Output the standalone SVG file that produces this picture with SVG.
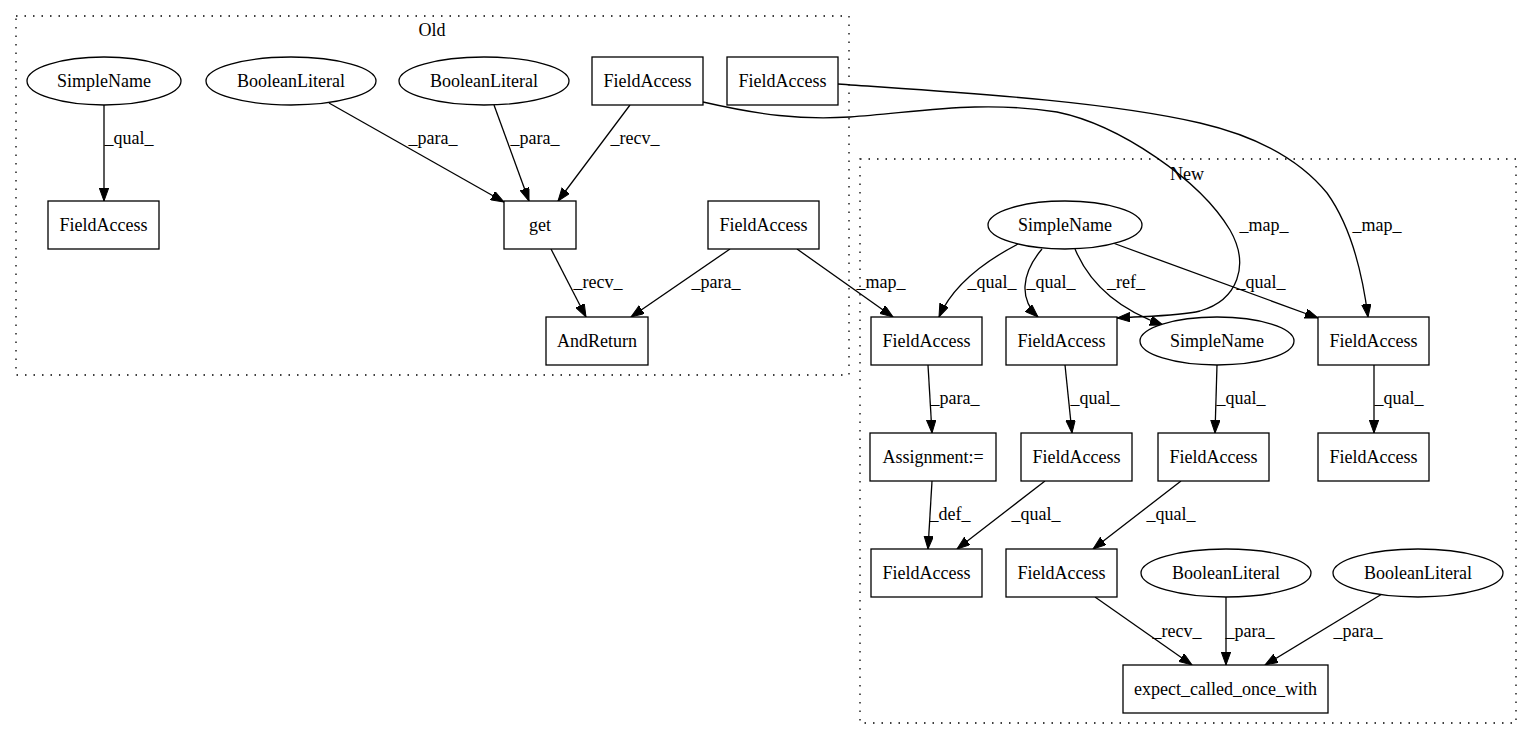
<svg xmlns="http://www.w3.org/2000/svg" width="1531" height="740" viewBox="0 0 1531 740">
<style>
text{font-family:"Liberation Serif","Times New Roman",serif;font-size:18px;fill:#000;text-anchor:middle}
.node rect,.node ellipse{fill:#fff;stroke:#000;stroke-width:1.3}
.cluster{fill:none;stroke:#000;stroke-width:1.3;stroke-dasharray:1.5,7}
.edges path{fill:none;stroke:#000;stroke-width:1.3;marker-end:url(#arr)}
</style>
<defs>
<marker id="arr" markerUnits="userSpaceOnUse" markerWidth="14" markerHeight="10" refX="13" refY="4.7" orient="auto">
<path d="M0,0 L13,4.7 L0,9.4 z" fill="#000" stroke="#000" stroke-width="1"/>
</marker>
</defs>
<rect width="1531" height="740" fill="#fff"/>
<g id="cluster_old"><rect class="cluster" x="16" y="16" width="833" height="359"/><text x="432" y="36">Old</text></g>
<g id="cluster_new"><rect class="cluster" x="860" y="159" width="656" height="564"/><text x="1187" y="180">New</text></g>

<g id="edges" class="edges">
<path d="M104,105 L104,201"/>
<path d="M329,103 L504,202"/>
<path d="M494,105 L529,201"/>
<path d="M630,105 L558,201"/>
<path d="M551,249 L586,317"/>
<path d="M730,249 L631,317"/>
<path d="M797,249 L893,317"/>
<path d="M703,102 C760,115 800,120 850,117 C920,112 980,100 1057,112 C1120,125 1200,180 1230,230 C1250,265 1238,300 1200,311 C1180,316 1150,316 1117,318"/>
<path d="M838,84 C950,92 1100,100 1200,123 C1260,137 1300,160 1327,193 C1350,225 1362,270 1368,317"/>
<path d="M1018,244 C995,256 955,280 939,317"/>
<path d="M1042,249 C1020,275 1020,300 1038,317"/>
<path d="M1075,249 C1090,285 1120,310 1163,325"/>
<path d="M1113,243 L1318,318"/>
<path d="M928,365 L932,433"/>
<path d="M1065,365 L1072,433"/>
<path d="M1217,365 L1215,433"/>
<path d="M1374,365 L1374,433"/>
<path d="M932,481 L928,549"/>
<path d="M1045,481 L957,549"/>
<path d="M1181,481 L1093,549"/>
<path d="M1095,597 L1192,665"/>
<path d="M1226,597 L1226,665"/>
<path d="M1382,594 L1265,665"/>
</g>
<g id="edge_labels">
<text x="129" y="144">_qual_</text>
<text x="433" y="144">_para_</text>
<text x="535" y="144">_para_</text>
<text x="635" y="144">_recv_</text>
<text x="598" y="288">_recv_</text>
<text x="716" y="288">_para_</text>
<text x="881" y="288">_map_</text>
<text x="992" y="288">_qual_</text>
<text x="1051" y="288">_qual_</text>
<text x="1126" y="288">_ref_</text>
<text x="1261" y="288">_qual_</text>
<text x="1264" y="231">_map_</text>
<text x="1377" y="231">_map_</text>
<text x="955" y="404">_para_</text>
<text x="1095" y="404">_qual_</text>
<text x="1241" y="404">_qual_</text>
<text x="1399" y="404">_qual_</text>
<text x="950" y="520">_def_</text>
<text x="1036" y="520">_qual_</text>
<text x="1171" y="520">_qual_</text>
<text x="1177" y="637">_recv_</text>
<text x="1250" y="637">_para_</text>
<text x="1358" y="637">_para_</text>
</g>

<g id="old_simplename" class="node"><ellipse cx="104" cy="81" rx="77" ry="24"/><text x="104" y="87">SimpleName</text></g>
<g id="old_boolean1" class="node"><ellipse cx="291" cy="81" rx="85" ry="24"/><text x="291" y="87">BooleanLiteral</text></g>
<g id="old_boolean2" class="node"><ellipse cx="484" cy="81" rx="85" ry="24"/><text x="484" y="87">BooleanLiteral</text></g>
<g id="old_fieldaccess1" class="node"><rect x="592" y="57" width="111" height="48"/><text x="647.5" y="87">FieldAccess</text></g>
<g id="old_fieldaccess2" class="node"><rect x="727" y="57" width="111" height="48"/><text x="782.5" y="87">FieldAccess</text></g>
<g id="old_fieldaccess3" class="node"><rect x="48" y="201" width="111" height="48"/><text x="103.5" y="231">FieldAccess</text></g>
<g id="old_get" class="node"><rect x="504" y="201" width="72" height="48"/><text x="540" y="231">get</text></g>
<g id="old_fieldaccess4" class="node"><rect x="708" y="201" width="111" height="48"/><text x="763.5" y="231">FieldAccess</text></g>
<g id="old_andreturn" class="node"><rect x="546" y="317" width="102" height="48"/><text x="597" y="347">AndReturn</text></g>

<g id="new_simplename" class="node"><ellipse cx="1065" cy="225" rx="77" ry="24"/><text x="1065" y="231">SimpleName</text></g>
<g id="new_fieldaccessA" class="node"><rect x="871" y="317" width="111" height="48"/><text x="926.5" y="347">FieldAccess</text></g>
<g id="new_fieldaccessB" class="node"><rect x="1006" y="317" width="111" height="48"/><text x="1061.5" y="347">FieldAccess</text></g>
<g id="new_simplename2" class="node"><ellipse cx="1217" cy="341" rx="77" ry="24"/><text x="1217" y="347">SimpleName</text></g>
<g id="new_fieldaccessC" class="node"><rect x="1318" y="317" width="111" height="48"/><text x="1373.5" y="347">FieldAccess</text></g>
<g id="new_assignment" class="node"><rect x="870" y="433" width="126" height="48"/><text x="933" y="463">Assignment:=</text></g>
<g id="new_fieldaccessB2" class="node"><rect x="1021" y="433" width="111" height="48"/><text x="1076.5" y="463">FieldAccess</text></g>
<g id="new_fieldaccessC2" class="node"><rect x="1158" y="433" width="111" height="48"/><text x="1213.5" y="463">FieldAccess</text></g>
<g id="new_fieldaccessD2" class="node"><rect x="1318" y="433" width="111" height="48"/><text x="1373.5" y="463">FieldAccess</text></g>
<g id="new_fieldaccessA3" class="node"><rect x="871" y="549" width="111" height="48"/><text x="926.5" y="579">FieldAccess</text></g>
<g id="new_fieldaccessB3" class="node"><rect x="1006" y="549" width="111" height="48"/><text x="1061.5" y="579">FieldAccess</text></g>
<g id="new_boolean1" class="node"><ellipse cx="1226" cy="573" rx="85" ry="24"/><text x="1226" y="579">BooleanLiteral</text></g>
<g id="new_boolean2" class="node"><ellipse cx="1418" cy="573" rx="85" ry="24"/><text x="1418" y="579">BooleanLiteral</text></g>
<g id="new_expect" class="node"><rect x="1123" y="665" width="205" height="48"/><text x="1225.5" y="695">expect_called_once_with</text></g>
</svg>
